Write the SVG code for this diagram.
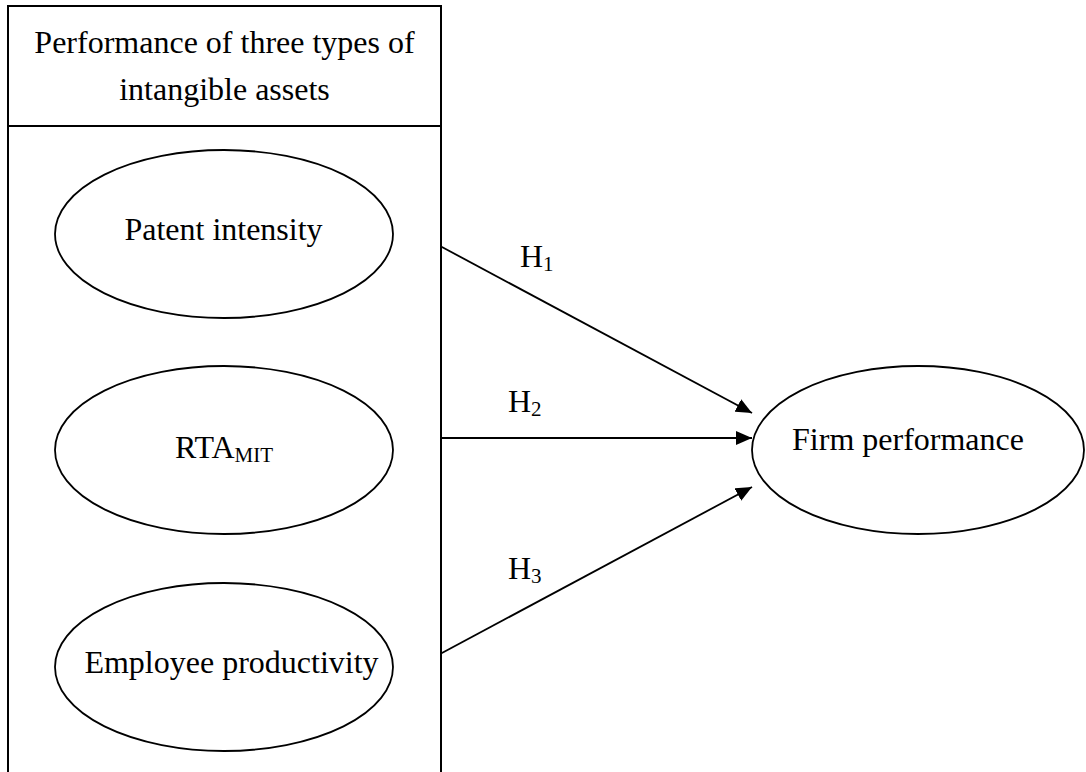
<svg xmlns="http://www.w3.org/2000/svg" width="1086" height="772" viewBox="0 0 1086 772">
<style>
text{font-family:"Liberation Serif","Times New Roman",serif;font-size:32px;fill:#000}
.sub{font-size:21px}
.node{fill:#fff;stroke:#000;stroke-width:1.8}
.box{fill:none;stroke:#000;stroke-width:2}
.edge{fill:none;stroke:#000;stroke-width:1.8}
</style>
<defs>
<marker id="arr" markerUnits="userSpaceOnUse" markerWidth="16" markerHeight="14" refX="16" refY="7" orient="auto">
<path d="M0,0 L16,7 L0,14 z" fill="#000"/>
</marker>
</defs>
<rect width="1086" height="772" fill="#fff"/>
<g id="group-box">
<path class="box" d="M8,772 V6 H441 V772"/>
<line class="box" x1="8" y1="126" x2="441" y2="126"/>
<text x="224.5" y="53" text-anchor="middle">Performance of three types of</text>
<text x="224.5" y="100" text-anchor="middle">intangible assets</text>
</g>
<g id="node-patent">
<ellipse class="node" cx="224" cy="234" rx="169" ry="84"/>
<text x="223.5" y="240" text-anchor="middle">Patent intensity</text>
</g>
<g id="node-rta">
<ellipse class="node" cx="224" cy="450" rx="169" ry="84"/>
<text x="175" y="458">RTA<tspan class="sub" dy="3.5">MIT</tspan></text>
</g>
<g id="node-employee">
<ellipse class="node" cx="224" cy="667" rx="169" ry="84"/>
<text x="231.5" y="673" text-anchor="middle">Employee productivity</text>
</g>
<g id="node-firm">
<ellipse class="node" cx="918" cy="450" rx="166" ry="84"/>
<text x="908" y="450" text-anchor="middle">Firm performance</text>
</g>
<g id="connectors">
<line class="edge" x1="441" y1="246.5" x2="752" y2="413" marker-end="url(#arr)"/>
<line class="edge" x1="441" y1="438" x2="752" y2="438" marker-end="url(#arr)"/>
<line class="edge" x1="441" y1="653.5" x2="752" y2="487" marker-end="url(#arr)"/>
<text x="520" y="267">H<tspan class="sub" dy="4">1</tspan></text>
<text x="508" y="412">H<tspan class="sub" dy="4">2</tspan></text>
<text x="508" y="579">H<tspan class="sub" dy="4">3</tspan></text>
</g>
</svg>
